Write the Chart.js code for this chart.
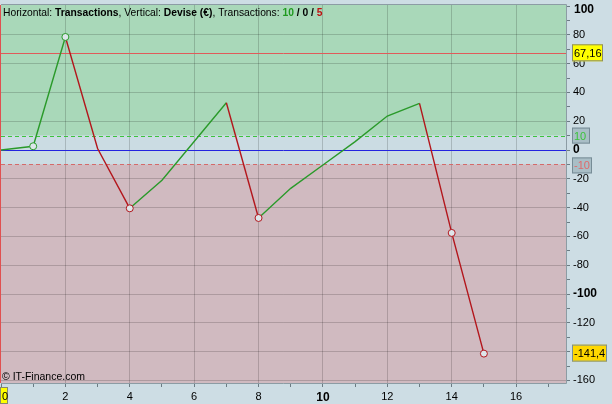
<!DOCTYPE html>
<html>
<head>
<meta charset="utf-8">
<script src="https://cdn.jsdelivr.net/npm/chart.js@4.4.1/dist/chart.umd.min.js"></script>
<style>
  html, body { margin: 0; padding: 0; background: #cddde4; }
  canvas { display: block; }
</style>
</head>
<body>
<canvas id="equityChart" width="612" height="404"></canvas>
<script>
// trade numbers and cumulative result (€)
const tradeNums = [0, 1, 2, 3, 4, 5, 6, 7, 8, 9, 10, 11, 12, 13, 14, 15];
const equity = [0, 2.6, 78.5, 1, -40.5, -21, 5.9, 32.8, -47.2, -26.6, -10.4, 5.8, 23.6, 32.4, -57.6, -141.4];

const yTickValues = [-160, -150, -140, -130, -120, -110, -100, -90, -80, -70, -60, -50, -40, -30, -20, -10,
  0, 10, 20, 30, 40, 50, 60, 70, 80, 90, 100];
const xTickValues = [0, 1, 2, 3, 4, 5, 6, 7, 8, 9, 10, 11, 12, 13, 14, 15, 16, 17];

const upperBand = 10;
const lowerBand = -10;
const maxLevel = 67.16;
const txStats = ["10", "0", "5"];

const GREEN = "#2a9a2a";
const RED = "#b3161c";
const FONT = "'Liberation Sans', Arial, sans-serif";

// points that make a new high / new low get a circle
const markers = equity.map((v, i) => {
  if (i === 0) return null;
  const prev = equity.slice(0, i);
  if (v > Math.max(...prev)) return "hi";
  if (v < Math.min(...prev)) return "lo";
  return null;
});

function tagBox(ctx, x, y, w, h, fill, stroke, text, color, font) {
  ctx.fillStyle = fill;
  ctx.fillRect(x, y, w, h);
  ctx.strokeStyle = stroke;
  ctx.lineWidth = 1;
  ctx.strokeRect(x + 0.5, y + 0.5, w - 1, h - 1);
  ctx.fillStyle = color;
  ctx.font = font;
  ctx.textAlign = "left";
  ctx.textBaseline = "middle";
  ctx.fillText(text, x + 2, y + h / 2 + 1);
}

const backdrop = {
  id: "backdrop",
  beforeDraw(chart) {
    const { ctx, chartArea: a, scales } = chart;
    const y = scales.y;
    ctx.save();
    ctx.fillStyle = "#cddde4";
    ctx.fillRect(0, 0, chart.width, chart.height);
    const yUp = y.getPixelForValue(upperBand);
    const yLo = y.getPixelForValue(lowerBand);
    ctx.fillStyle = "#a9d8b9";
    ctx.fillRect(a.left, a.top, a.right - a.left, yUp - a.top);
    ctx.fillStyle = "#cbdce3";
    ctx.fillRect(a.left, yUp, a.right - a.left, yLo - yUp);
    ctx.fillStyle = "#d0bac0";
    ctx.fillRect(a.left, yLo, a.right - a.left, a.bottom - yLo);
    ctx.restore();
  },
  beforeDatasetsDraw(chart) {
    const { ctx, chartArea: a, scales } = chart;
    const y = scales.y;
    const x = scales.x;
    ctx.save();
    const hline = (v, color, dash) => {
      const py = Math.round(y.getPixelForValue(v)) + 0.5;
      ctx.strokeStyle = color;
      ctx.setLineDash(dash);
      ctx.lineWidth = 1;
      ctx.beginPath();
      ctx.moveTo(a.left, py);
      ctx.lineTo(a.right, py);
      ctx.stroke();
    };
    hline(upperBand, "#3cc43c", [4, 3]);
    hline(lowerBand, "#d46a6a", [4, 3]);
    hline(0, "#2424e0", []);
    hline(maxLevel, "#e05a5a", []);
    ctx.setLineDash([]);
    // red marker at x = 0
    const px = Math.round(x.getPixelForValue(0)) - 0.5;
    ctx.strokeStyle = "#e05050";
    ctx.beginPath();
    ctx.moveTo(px, a.top);
    ctx.lineTo(px, a.bottom);
    ctx.stroke();
    ctx.restore();
  },
  afterDraw(chart) {
    const { ctx, chartArea: a, scales } = chart;
    const y = scales.y;
    ctx.save();
    // plot frame
    ctx.strokeStyle = "#8c9ca4";
    ctx.lineWidth = 1;
    ctx.beginPath();
    ctx.moveTo(a.left, a.top - 0.5);
    ctx.lineTo(a.right + 0.5, a.top - 0.5);
    ctx.lineTo(a.right + 0.5, a.bottom + 0.5);
    ctx.lineTo(a.left, a.bottom + 0.5);
    ctx.stroke();

    // header line
    const parts = [
      ["Horizontal: ", "normal", "#000"],
      ["Transactions", "bold", "#000"],
      [", Vertical: ", "normal", "#000"],
      ["Devise (€)", "bold", "#000"],
      [", Transactions: ", "normal", "#000"],
      [txStats[0], "bold", "#1f9a1f"],
      [" / ", "bold", "#000"],
      [txStats[1], "bold", "#000"],
      [" / ", "bold", "#000"],
      [txStats[2], "bold", "#c01010"]
    ];
    let tx = 3;
    ctx.textBaseline = "middle";
    ctx.textAlign = "left";
    parts.forEach(([t, w, c]) => {
      ctx.font = w + " 10.3px " + FONT;
      ctx.fillStyle = c;
      ctx.fillText(t, tx, 13);
      tx += ctx.measureText(t).width;
    });

    ctx.font = "10.5px " + FONT;
    ctx.fillStyle = "#000";
    ctx.fillText("© IT-Finance.com", 2, 377);

    // top axis label sits below its tick so it stays inside the canvas
    const topTick = yTickValues[yTickValues.length - 1];
    ctx.font = "bold 12px " + FONT;
    ctx.fillText(String(topTick), a.right + 8, Math.max(y.getPixelForValue(topTick), 10));

    // value tags on the right axis
    const bx = a.right + 6;
    const tf = "11px " + FONT;
    tagBox(ctx, bx, y.getPixelForValue(maxLevel) - 9, 31, 17, "#ffff00", "#8a8a6a", "67,16", "#000", tf);
    tagBox(ctx, bx, y.getPixelForValue(upperBand) - 8, 18, 16, "#a9bec6", "#778c96", "10", "#3ac43a", tf);
    tagBox(ctx, bx, y.getPixelForValue(lowerBand) - 7, 20, 16, "#a9bec6", "#778c96", "-10", "#e06a6a", tf);
    tagBox(ctx, bx, y.getPixelForValue(equity[equity.length - 1]) - 9, 35, 17, "#ffd800", "#7a8f99", "-141,4", "#000", tf);
    // x origin tag
    tagBox(ctx, 0, 387, 8, 17, "#ffff00", "#8a8a6a", "0", "#000", tf);
    ctx.restore();
  }
};

const ctx1 = document.getElementById("equityChart").getContext("2d");
new Chart(ctx1, {
  type: "line",
  data: {
    labels: tradeNums,
    datasets: [
      {
        label: "Equity",
        data: tradeNums.map((n, i) => ({ x: n, y: equity[i] })),
        borderWidth: 1.4,
        borderColor: GREEN,
        tension: 0,
        fill: false,
        segment: {
          borderColor: (c) => (c.p1.parsed.y >= c.p0.parsed.y ? GREEN : RED),
        },
        pointRadius: (c) => (markers[c.dataIndex] ? 3.5 : 0),
        pointBorderWidth: 1,
        pointBackgroundColor: "#dde6ea",
        pointBorderColor: (c) => (markers[c.dataIndex] === "hi" ? GREEN : RED),
      },
    ],
  },
  options: {
    responsive: false,
    animation: false,
    layout: { autoPadding: false, padding: { top: 5, left: 1, right: 0, bottom: 0 } },
    plugins: { legend: { display: false }, tooltip: { enabled: false } },
    scales: {
      x: {
        type: "linear",
        min: 0,
        max: 17.55,
        afterBuildTicks: (s) => { s.ticks = xTickValues.map((v) => ({ value: v })); },
        afterFit: (s) => { s.height = 21; s.paddingLeft = 0; s.paddingRight = 0; },
        border: { display: false },
        grid: {
          color: (c) => (c.tick && c.tick.value % 2 === 0 && c.tick.value > 0 ? "rgba(0,0,0,0.17)" : "rgba(0,0,0,0)"),
          tickColor: "#6b7b83",
          tickLength: 4,
        },
        ticks: {
          autoSkip: false,
          maxRotation: 0,
          padding: 3,
          color: "#000",
          font: (c) => ({ family: FONT, size: c.tick && c.tick.value === 10 ? 12 : 11, weight: c.tick && c.tick.value === 10 ? "bold" : "normal" }),
          callback: (v) => (v % 2 === 0 && v !== 0 ? String(v) : ""),
        },
      },
      y: {
        position: "right",
        min: -161.8,
        max: 100.7,
        afterBuildTicks: (s) => { s.ticks = yTickValues.map((v) => ({ value: v })); },
        afterFit: (s) => { s.width = 46; s.paddingTop = 0; s.paddingBottom = 0; },
        border: { display: false },
        grid: {
          color: (c) => (c.tick && c.tick.value % 20 === 0 && c.tick.value !== 0 && c.tick.value !== 100 ? "rgba(0,0,0,0.17)" : "rgba(0,0,0,0)"),
          tickColor: "#6b7b83",
          tickLength: 4,
        },
        ticks: {
          autoSkip: false,
          padding: 3,
          color: "#000",
          font: (c) => {
            const big = c.tick && Math.abs(c.tick.value) % 100 === 0;
            return { family: FONT, size: big ? 12 : 11, weight: big ? "bold" : "normal" };
          },
          callback: (v) => (v % 20 === 0 && v !== 100 ? String(v) : ""),
        },
      },
    },
  },
  plugins: [backdrop],
});
</script>
</body>
</html>
